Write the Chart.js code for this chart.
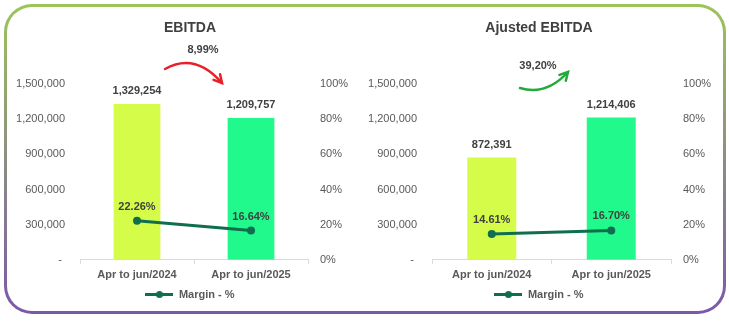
<!DOCTYPE html>
<html>
<head>
<meta charset="utf-8">
<script src="https://cdn.jsdelivr.net/npm/chart.js"></script>
<style>
  body { margin: 0; background: #fff; width: 729px; height: 324px; position: relative; overflow: hidden; }
  .frame {
    position: absolute; left: 4px; top: 4px; width: 722px; height: 310px; box-sizing: border-box;
    border: 3px solid transparent; border-radius: 28px;
    background: linear-gradient(#fff, #fff) padding-box, linear-gradient(to bottom, #9dc45a, #7b58aa) border-box;
  }
  canvas { position: absolute; top: 8px; }
  #ebitda { left: 15px; }
  #adjusted { left: 362px; }
</style>
</head>
<body>
<div class="frame"></div>
<canvas id="ebitda" width="350" height="302"></canvas>
<canvas id="adjusted" width="354" height="302"></canvas>
<script>
// data
const categories = ['Apr to jun/2024', 'Apr to jun/2025'];
const ebitdaValues = [1329254, 1209757];
const ebitdaMargin = [22.26, 16.64];
const adjustedValues = [872391, 1214406];
const adjustedMargin = [14.61, 16.70];
const chartTitles = ['EBITDA', 'Ajusted EBITDA'];
const changeLabels = ['8,99%', '39,20%'];
const legendLabel = 'Margin - %';
const valueMax = 1500000, valueStep = 300000;
const pctMax = 100, pctStep = 20;

const barColors = ['#d4fc48', '#22f98c'];
const lineColor = '#0f6e4e';
const fontFamily = "'Liberation Sans', Arial, sans-serif";

// legend marker: line with a dot
const marker = document.createElement('canvas');
marker.width = 28; marker.height = 9;
(function () {
  const c = marker.getContext('2d');
  c.strokeStyle = lineColor; c.lineWidth = 3;
  c.beginPath(); c.moveTo(0, 4.5); c.lineTo(28, 4.5); c.stroke();
  c.fillStyle = lineColor;
  c.beginPath(); c.arc(14, 4.5, 3.5, 0, Math.PI * 2); c.fill();
})();

const dataLabels = {
  id: 'dataLabels',
  afterDatasetsDraw(chart) {
    const ctx = chart.ctx;
    ctx.save();
    ctx.font = 'bold 11px ' + fontFamily;
    ctx.fillStyle = '#404040';
    ctx.textAlign = 'center';
    ctx.textBaseline = 'middle';
    chart.data.datasets.forEach((ds, i) => {
      chart.getDatasetMeta(i).data.forEach((el, j) => {
        const v = ds.data[j];
        const txt = ds.type === 'line' ? v.toFixed(2) + '%' : v.toLocaleString('en-US');
        ctx.fillText(txt, el.x, el.y - (ds.type === 'line' ? 14 : 13));
      });
    });
    ctx.restore();
  }
};

// curved arrow with the change between periods
const changeArrow = {
  id: 'changeArrow',
  afterDraw(chart, args, o) {
    const ctx = chart.ctx;
    ctx.save();
    ctx.font = 'bold 11px ' + fontFamily;
    ctx.fillStyle = '#404040';
    ctx.textAlign = 'center';
    ctx.textBaseline = 'middle';
    ctx.fillText(o.text, o.tx, o.ty);
    ctx.strokeStyle = o.color;
    ctx.lineWidth = 2.5;
    ctx.lineCap = 'round';
    ctx.beginPath();
    ctx.moveTo(o.p0[0], o.p0[1]);
    ctx.quadraticCurveTo(o.c[0], o.c[1], o.p1[0], o.p1[1]);
    ctx.stroke();
    const a = Math.atan2(o.p1[1] - o.c[1], o.p1[0] - o.c[0]);
    ctx.beginPath();
    ctx.moveTo(o.p1[0] - 9 * Math.cos(a - 0.5), o.p1[1] - 9 * Math.sin(a - 0.5));
    ctx.lineTo(o.p1[0], o.p1[1]);
    ctx.lineTo(o.p1[0] - 9 * Math.cos(a + 0.5), o.p1[1] - 9 * Math.sin(a + 0.5));
    ctx.stroke();
    ctx.restore();
  }
};

function makeChart(id, title, values, margin, leftW, rightW, arrow) {
  new Chart(document.getElementById(id), {
    data: {
      labels: categories,
      datasets: [
        {
          type: 'line', label: legendLabel, data: margin, yAxisID: 'y1', order: 0,
          borderColor: lineColor, backgroundColor: lineColor, borderWidth: 3,
          pointRadius: 4, pointBackgroundColor: lineColor, pointBorderWidth: 0
        },
        {
          type: 'bar', label: title, data: values, yAxisID: 'y', order: 1,
          backgroundColor: barColors, categoryPercentage: 1, barPercentage: 0.41
        }
      ]
    },
    options: {
      responsive: false,
      animation: false,
      layout: { padding: 0 },
      scales: {
        x: {
          offset: true,
          grid: { display: true, drawOnChartArea: false, drawTicks: true, tickLength: 4, color: '#d9d9d9', offset: true },
          border: { display: true, color: '#d9d9d9', width: 1 },
          ticks: { padding: 5, color: '#595959', font: { family: fontFamily, size: 11, weight: 'bold' } }
        },
        y: {
          position: 'left', min: 0, max: valueMax,
          afterFit: s => { s.width = leftW; },
          grid: { display: false, drawTicks: false },
          border: { display: false },
          ticks: {
            stepSize: valueStep, padding: 15, color: '#595959',
            font: { family: fontFamily, size: 11 },
            callback: v => v === 0 ? '- ' : v.toLocaleString('en-US')
          }
        },
        y1: {
          position: 'right', min: 0, max: pctMax,
          afterFit: s => { s.width = rightW; },
          grid: { display: false, drawTicks: false },
          border: { display: false },
          ticks: {
            stepSize: pctStep, padding: 12, color: '#595959',
            font: { family: fontFamily, size: 11 },
            callback: v => v + '%'
          }
        }
      },
      plugins: {
        tooltip: { enabled: false },
        title: {
          display: true, text: title, color: '#404040',
          font: { family: fontFamily, size: 14, weight: 'bold' },
          padding: { top: 11.6, bottom: 47.6 }
        },
        legend: {
          position: 'bottom',
          labels: {
            usePointStyle: true, pointStyleWidth: 28, padding: 2, color: '#595959',
            font: { family: fontFamily, size: 11, weight: 'bold' },
            generateLabels: chart => Chart.defaults.plugins.legend.labels.generateLabels(chart)
              .filter(l => l.datasetIndex === 0)
              .map(l => Object.assign(l, { pointStyle: marker }))
          }
        },
        changeArrow: arrow
      }
    },
    plugins: [dataLabels, changeArrow]
  });
}

makeChart('ebitda', chartTitles[0], ebitdaValues, ebitdaMargin, 65, 57,
  { text: changeLabels[0], tx: 188, ty: 42, color: '#e8202a', p0: [150, 61], c: [180, 44], p1: [207, 75] });
makeChart('adjusted', chartTitles[1], adjustedValues, adjustedMargin, 70, 45,
  { text: changeLabels[1], tx: 176, ty: 58, color: '#22aa3a', p0: [158, 80], c: [184, 88], p1: [206, 64] });
</script>
</body>
</html>
